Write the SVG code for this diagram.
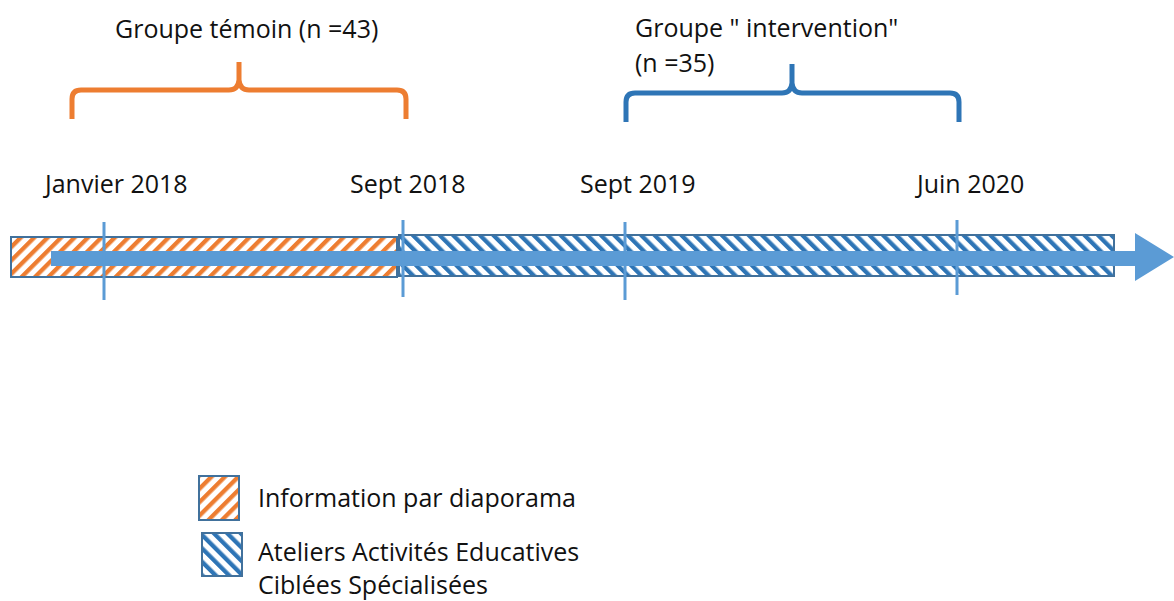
<svg xmlns="http://www.w3.org/2000/svg" width="1174" height="601" viewBox="0 0 1174 601">
<defs>
<pattern id="hatchO" patternUnits="userSpaceOnUse" width="9.5" height="9.5" patternTransform="rotate(45)"><rect width="9.5" height="9.5" fill="#fff"/><rect width="4.3" height="9.5" fill="#ED7D31"/></pattern>
<pattern id="hatchB" patternUnits="userSpaceOnUse" width="9.5" height="9.5" patternTransform="rotate(-45)"><rect width="9.5" height="9.5" fill="#fff"/><rect width="4.3" height="9.5" fill="#2E75B6"/></pattern>
</defs>
<style>
text{font-family:"Open Sans","Liberation Sans",sans-serif;font-size:25px;fill:#111}
.box{stroke:#41719C;stroke-width:2}
.tick{stroke:#5B9BD5;stroke-width:3;fill:none}
.brace{fill:none;stroke-width:5;stroke-linejoin:round}
</style>
<g id="bar-info">
<rect class="box" x="11" y="237" width="386" height="40" fill="url(#hatchO)"/>
</g>
<g id="bar-ateliers">
<rect class="box" x="399" y="235" width="715" height="41" fill="url(#hatchB)"/>
</g>
<g id="connectors">
<path d="M51,251 H1135 V233 L1174,257 L1135,281 V266 H51 Z" fill="#5B9BD5"/>
<line class="tick" x1="104" y1="222" x2="104" y2="300"/>
<line class="tick" x1="403" y1="220" x2="403" y2="297"/>
<line class="tick" x1="625" y1="222" x2="625" y2="300"/>
<line class="tick" x1="957" y1="220" x2="957" y2="295"/>
</g>
<g id="brace-temoin">
<path class="brace" stroke="#ED7D31" d="M72,119 V99 Q72,90 81,90 H229 Q238,90 239,80 V62 M406,119 V99 Q406,90 397,90 H249 Q240,90 239,80"/>
<text x="115" y="38">Groupe témoin (n =43)</text>
</g>
<g id="brace-intervention">
<path class="brace" stroke="#2E75B6" d="M626,122 V102 Q626,93 635,93 H782 Q791,93 792,83 V64 M959,122 V102 Q959,93 950,93 H802 Q793,93 792,83"/>
<text x="635" y="37">Groupe " intervention"</text>
<text x="635" y="72">(n =35)</text>
</g>
<g id="dates">
<text x="45" y="193">Janvier 2018</text>
<text x="350" y="193">Sept 2018</text>
<text x="580" y="193">Sept 2019</text>
<text x="917" y="193">Juin 2020</text>
</g>
<g id="legend-info">
<rect class="box" x="199" y="476" width="40" height="44" fill="url(#hatchO)"/>
<text x="258" y="507">Information par diaporama</text>
</g>
<g id="legend-ateliers">
<rect class="box" x="202" y="533" width="40" height="43" fill="url(#hatchB)"/>
<text x="258" y="561">Ateliers Activités Educatives</text>
<text x="258" y="594">Ciblées Spécialisées</text>
</g>
</svg>
